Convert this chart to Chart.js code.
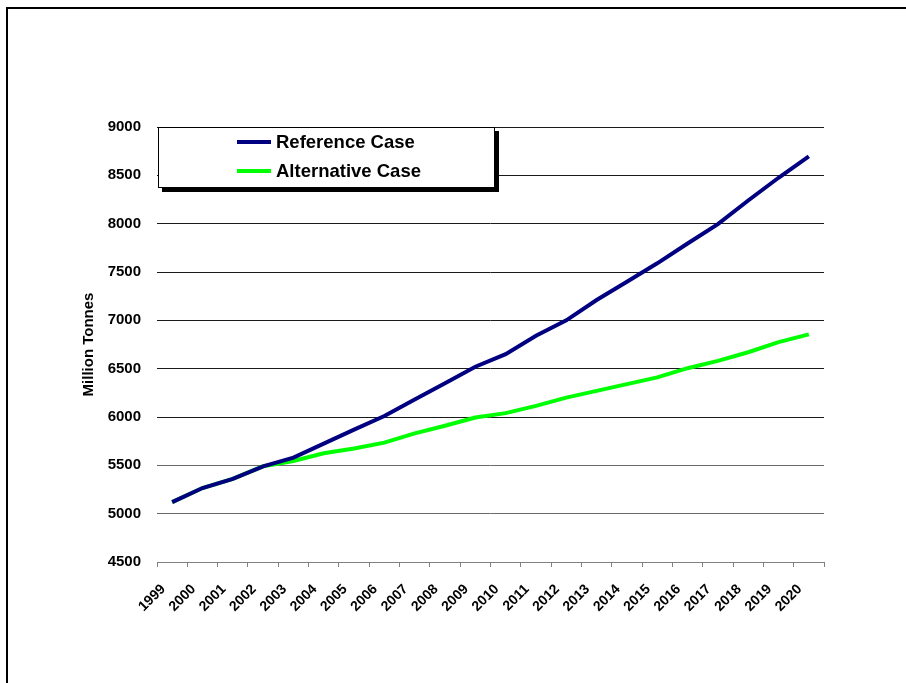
<!DOCTYPE html>
<html>
<head>
<meta charset="utf-8">
<script src="https://cdn.jsdelivr.net/npm/chart.js@4"></script>
<style>
    html, body { margin: 0; padding: 0; background: #fff; overflow: hidden; }
    #frame {
        position: absolute; left: 6px; top: 7px; width: 1200px; height: 1000px;
        border-top: 2px solid #000; border-left: 2px solid #000;
    }
    #wrap { position: absolute; left: 0; top: 0; width: 906px; height: 683px; }
</style>
</head>
<body>
<div id="frame"></div>
<div id="wrap"><canvas id="chartCanvas" width="906" height="683"></canvas></div>
<script>
const years = ["1999", "2000", "2001", "2002", "2003", "2004", "2005", "2006", "2007", "2008", "2009",
    "2010", "2011", "2012", "2013", "2014", "2015", "2016", "2017", "2018", "2019", "2020"];
const referenceCase = [5120, 5265, 5360, 5490, 5580, 5725, 5870, 6010, 6180, 6350, 6520,
    6650, 6840, 7000, 7210, 7400, 7590, 7795, 7995, 8240, 8475, 8695];
const alternativeCase = [5120, 5265, 5360, 5490, 5545, 5625, 5675, 5735, 5830, 5910, 5995,
    6040, 6115, 6200, 6270, 6340, 6410, 6505, 6580, 6670, 6775, 6855];
const yMin = 4500, yMax = 9000, yStep = 500;

const FONT = "'Liberation Sans', Arial, sans-serif";

// boxed legend with a hard drop shadow, drawn over the plot's top-left corner
const boxLegend = {
    id: "boxLegend",
    afterDraw(chart) {
        const ctx = chart.ctx;
        const area = chart.chartArea;
        const x = area.left + 1, y = area.top, w = 337, h = 61;
        ctx.save();
        ctx.fillStyle = "#000";
        ctx.fillRect(x + 4, y + 4, w, h);
        ctx.fillStyle = "#fff";
        ctx.fillRect(x, y, w, h);
        ctx.strokeStyle = "#000";
        ctx.lineWidth = 1;
        ctx.strokeRect(x + 0.5, y + 0.5, w - 1, h - 1);
        ctx.font = "bold 18.5px " + FONT;
        ctx.textBaseline = "middle";
        ctx.textAlign = "left";
        chart.data.datasets.forEach((ds, i) => {
            const ly = y + 15 + i * 29;
            ctx.strokeStyle = ds.borderColor;
            ctx.lineWidth = 4;
            ctx.beginPath();
            ctx.moveTo(x + 79, ly);
            ctx.lineTo(x + 113, ly);
            ctx.stroke();
            ctx.fillStyle = "#000";
            ctx.fillText(ds.label, x + 118, ly + 1);
        });
        ctx.restore();
    }
};

const ctx = document.getElementById("chartCanvas").getContext("2d");
new Chart(ctx, {
    type: "line",
    data: {
        labels: years,
        datasets: [{
            label: "Reference Case",
            data: referenceCase,
            borderColor: "#000080",
            borderWidth: 4,
            pointRadius: 0,
            tension: 0
        }, {
            label: "Alternative Case",
            data: alternativeCase,
            borderColor: "#00FF00",
            borderWidth: 4,
            pointRadius: 0,
            tension: 0
        }]
    },
    options: {
        responsive: false,
        animation: false,
        layout: { padding: { top: 127, right: 82, bottom: 0, left: 0 } },
        plugins: {
            legend: { display: false },
            tooltip: { enabled: false }
        },
        scales: {
            x: {
                offset: true,
                afterFit: scale => { scale.height = 121; },
                grid: {
                    offset: true,
                    drawOnChartArea: false,
                    drawTicks: true,
                    tickLength: 5,
                    color: "#808080"
                },
                border: { display: true, color: "#808080", width: 1 },
                ticks: {
                    maxRotation: 45,
                    minRotation: 45,
                    autoSkip: false,
                    padding: 14,
                    labelOffset: -9,
                    color: "#000",
                    font: { family: FONT, size: 14, weight: "bold" }
                }
            },
            y: {
                min: yMin,
                max: yMax,
                afterFit: scale => { scale.width = 157; },
                grid: {
                    drawTicks: false,
                    color: c => c.tick.value === yMin ? "#808080" : (c.tick.value <= 5500 ? "#6a6a6a" : "#1a1a1a")
                },
                border: { display: false },
                ticks: {
                    stepSize: yStep,
                    padding: 16,
                    color: "#000",
                    font: { family: FONT, size: 15, weight: "bold" },
                    callback: v => String(v)
                },
                title: {
                    display: true,
                    text: "Million Tonnes",
                    color: "#000",
                    padding: { top: 80, bottom: 0 },
                    font: { family: FONT, size: 15, weight: "bold" }
                }
            }
        }
    },
    plugins: [boxLegend]
});
</script>
</body>
</html>
